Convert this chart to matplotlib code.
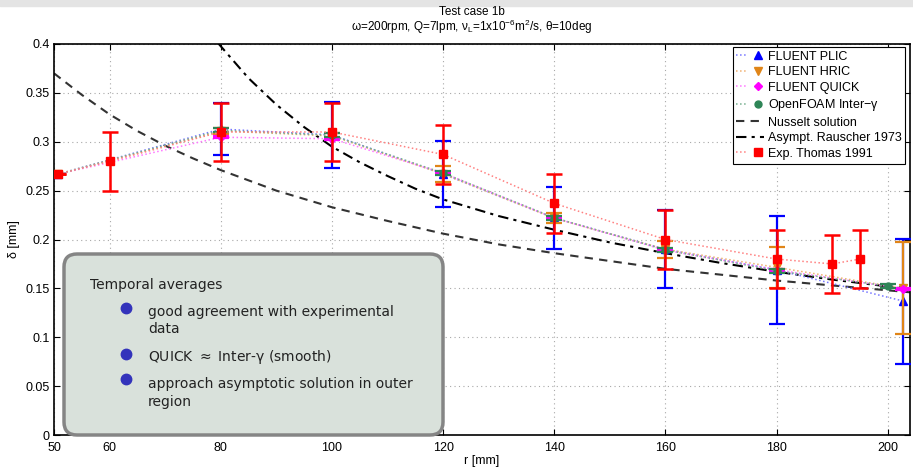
import matplotlib
matplotlib.use('Agg')
import matplotlib.pyplot as plt
from matplotlib.patches import FancyBboxPatch, Rectangle
from matplotlib.lines import Line2D
from matplotlib.legend_handler import HandlerTuple

plt.rcParams['font.family'] = ['Liberation Sans', 'DejaVu Sans']
plt.rcParams['mathtext.default'] = 'regular'

# simulation radii (mm)
r_sim = [50.8, 80, 100, 120, 140, 160, 180, 202.8]
r_foam = [50.8, 80, 100, 120, 140, 160, 180, 200]

# FLUENT PLIC
plic = [0.267, 0.313, 0.307, 0.267, 0.222, 0.190, 0.169, 0.137]
plic_err = [0.0, 0.027, 0.034, 0.034, 0.032, 0.040, 0.055, 0.064]
# FLUENT HRIC
hric = [0.267, 0.311, 0.306, 0.267, 0.2217, 0.190, 0.1715, 0.150]
hric_err = [0.0, 0.003, 0.003, 0.008, 0.005, 0.0087, 0.021, 0.047]
# FLUENT QUICK
quick = [0.267, 0.3046, 0.3031, 0.268, 0.222, 0.189, 0.169, 0.1497]
quick_err = [0.0, 0.001, 0.001, 0.001, 0.001, 0.001, 0.001, 0.001]
# OpenFOAM Inter-gamma
foam = [0.267, 0.3117, 0.3066, 0.268, 0.2223, 0.1893, 0.168, 0.1524]
foam_err = [0.0, 0.002, 0.002, 0.002, 0.002, 0.002, 0.002, 0.002]

# Nusselt solution
r_nus = [50, 55, 60, 65, 70, 75, 80, 90, 100, 110, 120, 130, 140, 150, 160, 170, 180, 190, 200, 204]
nus = [0.370, 0.348, 0.328, 0.311, 0.296, 0.283, 0.271, 0.250, 0.233, 0.219, 0.206, 0.195,
       0.186, 0.178, 0.170, 0.164, 0.158, 0.153, 0.148, 0.146]

# Asymptotic Rauscher 1973
r_rau = [79.5, 85, 90, 95, 100, 105, 110, 115, 120, 130, 140, 150, 160, 170, 180, 190, 200, 204]
rau = [0.401, 0.365, 0.338, 0.315, 0.295, 0.279, 0.265, 0.252, 0.241, 0.224, 0.210, 0.197,
       0.186, 0.176, 0.167, 0.159, 0.152, 0.150]

# Experiment Thomas 1991
r_exp = [50.8, 60, 80, 100, 120, 140, 160, 180, 190, 195]
exp = [0.267, 0.280, 0.310, 0.310, 0.287, 0.237, 0.200, 0.180, 0.175, 0.180]
exp_err = [0.0, 0.03, 0.03, 0.03, 0.03, 0.03, 0.03, 0.03, 0.03, 0.03]

xticks = [50, 60, 80, 100, 120, 140, 160, 180, 200]
yticks = [0, 0.05, 0.1, 0.15, 0.2, 0.25, 0.3, 0.35, 0.4]

fig = plt.figure(figsize=(9.13, 4.67), dpi=100)
ax = fig.add_axes([54/913, 1-435/467, 856/913, 391/467])

series = [
    (r_sim, plic, plic_err, '#0000ff', '#7777ff', '^', 6, 'FLUENT PLIC'),
    (r_sim, hric, hric_err, '#e08518', '#f0b070', 'v', 6, 'FLUENT HRIC'),
    (r_sim, quick, quick_err, '#ff00ff', '#ff77ff', 'D', 4.5, 'FLUENT QUICK'),
    (r_foam, foam, foam_err, '#2e8557', '#77b090', 'o', 5, 'OpenFOAM Inter$-\\gamma$'),
]

handles, labels = [], []
z = 3
for x, y, e, c, lc, m, ms, lab in series:
    ln, = ax.plot(x, y, ':', color=lc, lw=1.1, zorder=z)
    ax.errorbar(x, y, yerr=e, fmt=m, color=c, ms=ms, elinewidth=1.6, capsize=6,
                capthick=1.6, zorder=z + 0.5)
    mk = Line2D([], [], ls='none', marker=m, color=c, ms=ms)
    handles.append((ln, mk))
    labels.append(lab)
    z += 1

nus_ln, = ax.plot(r_nus, nus, '--', color='#333333', lw=1.5, dashes=(4, 3), zorder=2)
rau_ln, = ax.plot(r_rau, rau, '-.', color='black', lw=1.5, dashes=(5, 2.5, 1.5, 2.5), zorder=2)
handles += [nus_ln, rau_ln]
labels += ['Nusselt solution', 'Asympt. Rauscher 1973']

exp_ln, = ax.plot(r_exp, exp, ':', color='#ff8080', lw=1.1, zorder=8)
ax.errorbar(r_exp, exp, yerr=exp_err, fmt='s', color='#ff0000', ms=6, elinewidth=1.8,
            capsize=6, capthick=1.8, zorder=8.5)
handles.append((exp_ln, Line2D([], [], ls='none', marker='s', color='#ff0000', ms=6)))
labels.append('Exp. Thomas 1991')

ax.set_xlim(50, 204)
ax.set_ylim(0, 0.4)
ax.set_xticks(xticks)
ax.set_yticks(yticks)
ax.set_xticklabels([str(t) for t in xticks])
ax.set_yticklabels(['0', '0.05', '0.1', '0.15', '0.2', '0.25', '0.3', '0.35', '0.4'])
ax.tick_params(direction='in', top=True, right=True, length=4, width=0.8, labelsize=9)
ax.tick_params(axis='x', pad=5)
ax.tick_params(axis='y', pad=3)
ax.grid(True, linestyle=(0, (1, 3)), color='#a8a8a8', lw=0.8)
ax.set_axisbelow(True)
for s in ax.spines.values():
    s.set_linewidth(1.2)

ax.set_xlabel('r [mm]', fontsize=9, labelpad=1)
ax.set_ylabel('δ [mm]', fontsize=9, labelpad=4)

leg = ax.legend(handles, labels, loc='upper right', bbox_to_anchor=(0.9942, 0.9923),
                borderaxespad=0, fontsize=9, handlelength=2.2, handletextpad=0.3,
                labelspacing=0.28, borderpad=0.3, fancybox=False, framealpha=1,
                edgecolor='black', handler_map={tuple: HandlerTuple(ndivide=None)})
leg.get_frame().set_linewidth(0.8)
leg.set_zorder(20)

fig.text(472/913, 1-12/467, 'Test case 1b', ha='center', va='center', fontsize=8.5)
fig.text(472/913, 1-27/467,
         'ω=200rpm, Q=7lpm, ν$_L$=1x10$^{-6}$m$^2$/s, θ=10deg',
         ha='center', va='center', fontsize=8.5)

# gray strip at the very top
fig.add_artist(Rectangle((0, 1-6/467), 1, 6/467, transform=fig.transFigure,
                         color='#e4e4e4', zorder=0))

# annotation box
bx0, bx1 = 64/913, 443/913
by0, by1 = 1-435/467, 1-254/467
fig.add_artist(FancyBboxPatch((bx0, by0), bx1-bx0, by1-by0,
                              boxstyle='round,pad=0,rounding_size=%f' % (13/913),
                              mutation_aspect=913/467, transform=fig.transFigure,
                              facecolor='#d9e1db', edgecolor='#858585', lw=2.5, zorder=30))

tfont = dict(fontsize=10, color='#222222', family='DejaVu Sans', va='center', zorder=31)
fig.text(90/913, 1-285/467, 'Temporal averages', **tfont)
bullets_y = [308, 354, 379]
for by in bullets_y:
    fig.add_artist(Line2D([126/913], [1-by/467], marker='o', ms=7.5, color='#3333bb',
                          transform=fig.transFigure, zorder=31))
fig.text(148/913, 1-312/467, 'good agreement with experimental', **tfont)
fig.text(148/913, 1-329/467, 'data', **tfont)
fig.text(148/913, 1-357/467, 'QUICK $\\approx$ Inter-$\\gamma$ (smooth)', **tfont)
fig.text(148/913, 1-384/467, 'approach asymptotic solution in outer', **tfont)
fig.text(148/913, 1-402/467, 'region', **tfont)

fig.savefig('out.png', dpi=100)
